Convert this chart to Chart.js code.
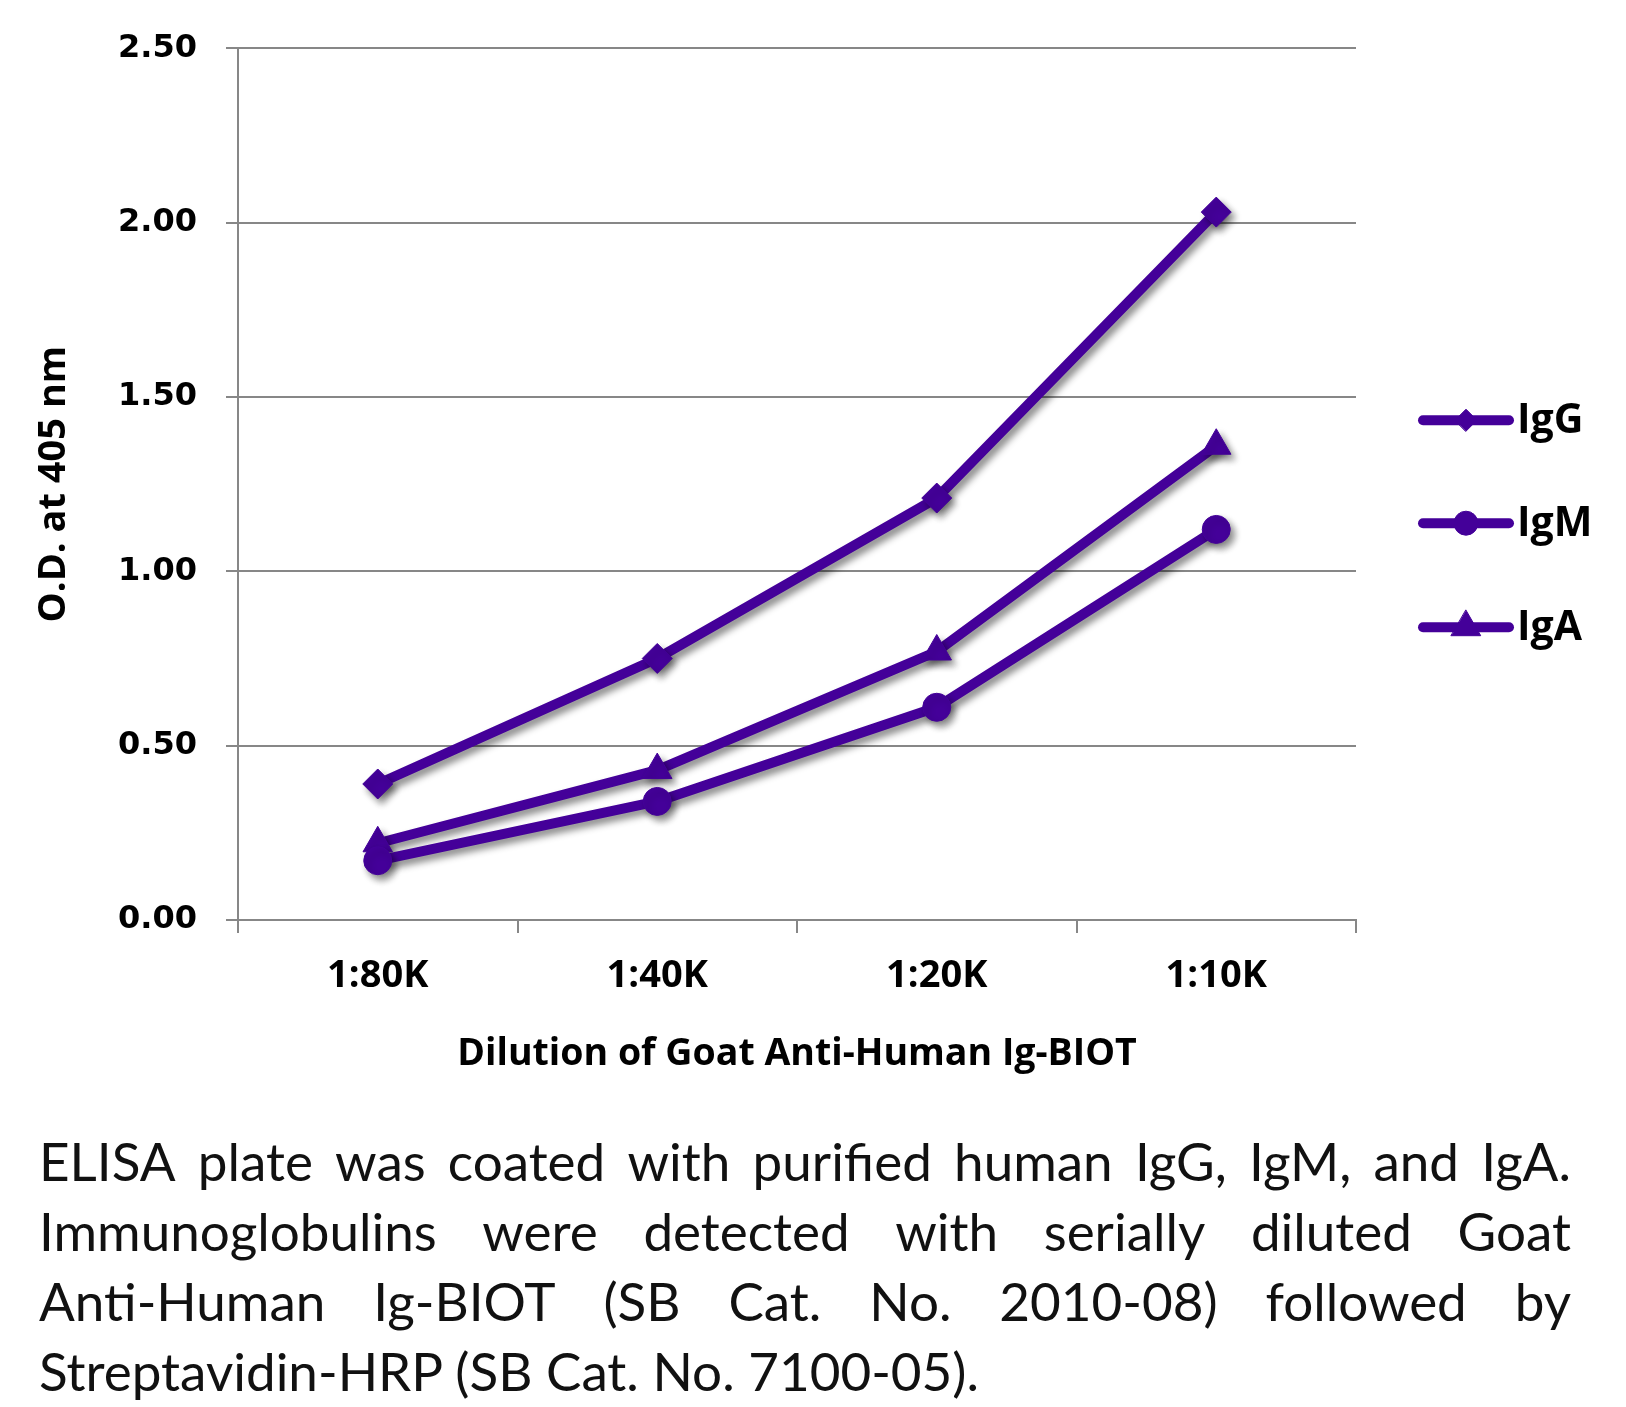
<!DOCTYPE html>
<html><head><meta charset="utf-8">
<script src="https://cdn.jsdelivr.net/npm/chart.js@4/dist/chart.umd.min.js"></script>
<style>
html,body{margin:0;padding:0;background:#fff;}
#wrap{position:absolute;left:0;top:0;width:1626px;height:1085px;}
#cap{position:absolute;left:39px;top:1126px;width:1532px;font-family:Lato,'Open Sans',sans-serif;font-size:53px;color:#111;line-height:70px;}
#cap .ln{display:flex;justify-content:space-between;white-space:nowrap;}
#cap .last{display:block;white-space:nowrap;}
</style>
</head><body>
<div id="wrap"><canvas id="c" width="1626" height="1085"></canvas></div>
<div id="cap">
<div class="ln"><span>ELISA</span><span>plate</span><span>was</span><span>coated</span><span>with</span><span>purified</span><span>human</span><span>IgG,</span><span>IgM,</span><span>and</span><span>IgA.</span></div>
<div class="ln"><span>Immunoglobulins</span><span>were</span><span>detected</span><span>with</span><span>serially</span><span>diluted</span><span>Goat</span></div>
<div class="ln"><span>Anti-Human</span><span>Ig-BIOT</span><span>(SB</span><span>Cat.</span><span>No.</span><span>2010-08)</span><span>followed</span><span>by</span></div>
<div class="last">Streptavidin-HRP (SB Cat. No. 7100-05).</div>
</div>
<script>
const categories = ['1:80K', '1:40K', '1:20K', '1:10K'];
const seriesNames = ['IgG', 'IgM', 'IgA'];
const igG = [0.39, 0.75, 1.21, 2.03];
const igM = [0.17, 0.34, 0.61, 1.12];
const igA = [0.22, 0.43, 0.77, 1.36];
const yMin = 0, yMax = 2.5, yStep = 0.5;
const xTitle = 'Dilution of Goat Anti-Human Ig-BIOT';
const yTitle = 'O.D. at 405 nm';

const PURPLE = '#440099';
const GRID = '#878787';
const BOLD = "'Open Sans', Lato, sans-serif";
const WIDE = "'DejaVu Sans', 'Open Sans', sans-serif";

const shadowPlugin = {
  id: 'shadow',
  beforeDatasetsDraw(chart) {
    const ctx = chart.ctx;
    ctx.save();
    ctx.shadowColor = 'rgba(0,0,0,0.45)';
    ctx.shadowBlur = 7;
    ctx.shadowOffsetX = 4;
    ctx.shadowOffsetY = 5;
  },
  afterDatasetsDraw(chart) { chart.ctx.restore(); }
};

const legendPlugin = {
  id: 'sideLegend',
  afterDraw(chart) {
    const ctx = chart.ctx;
    const ca = chart.chartArea;
    const x0 = ca.right + 67, x1 = ca.right + 153, xm = (x0 + x1) / 2;
    const ys = [ca.top + 372, ca.top + 475, ca.top + 579];
    const radii = [11, 12, 17];
    chart.data.datasets.forEach((ds, i) => {
      const y = ys[i];
      ctx.save();
      ctx.strokeStyle = ds.borderColor;
      ctx.lineWidth = 10;
      ctx.lineCap = 'round';
      ctx.beginPath(); ctx.moveTo(x0, y); ctx.lineTo(x1, y); ctx.stroke();
      ctx.fillStyle = ds.backgroundColor;
      ctx.strokeStyle = ds.borderColor;
      ctx.lineWidth = 1;
      Chart.helpers.drawPoint(ctx, {pointStyle: ds.pointStyle, radius: radii[i], borderWidth: 1, rotation: 0}, xm, y);
      ctx.fillStyle = '#000';
      ctx.font = 'bold 41px ' + BOLD;
      ctx.textBaseline = 'middle';
      ctx.textAlign = 'left';
      ctx.fillText(ds.label, x1 + 8, y + 1);
      ctx.restore();
    });
  }
};

const mk = (label, data, style, r) => ({
  label, data,
  borderColor: PURPLE, backgroundColor: PURPLE,
  borderWidth: 10, borderCapStyle: 'round', borderJoinStyle: 'round',
  pointStyle: style, pointRadius: r, pointBorderWidth: 1,
  pointBackgroundColor: PURPLE, pointBorderColor: PURPLE,
  tension: 0, fill: false
});

new Chart(document.getElementById('c'), {
  type: 'line',
  data: {
    labels: categories,
    datasets: [
      mk(seriesNames[0], igG, 'rectRot', 15),
      mk(seriesNames[1], igM, 'circle', 14),
      mk(seriesNames[2], igA, 'triangle', 17)
    ]
  },
  options: {
    responsive: false,
    animation: false,
    devicePixelRatio: 1,
    layout: {padding: {top: 48, right: 270, left: 0, bottom: 0}},
    plugins: {legend: {display: false}, tooltip: {enabled: false}},
    scales: {
      x: {
        type: 'category',
        offset: true,
        grid: {offset: true, drawOnChartArea: false, drawTicks: true, tickLength: 13, color: GRID, lineWidth: 2},
        border: {color: GRID, width: 2},
        ticks: {color: '#000', font: {family: BOLD, weight: 'bold', size: 38}, padding: 20, maxRotation: 0},
        title: {display: true, text: xTitle, color: '#000', font: {family: BOLD, weight: 'bold', size: 37.5}, padding: {top: 0, bottom: 8}},
        afterFit(s) { s.height = 165; }
      },
      y: {
        min: yMin, max: yMax,
        grid: {color: GRID, lineWidth: 2, tickLength: 12},
        border: {color: GRID, width: 2},
        ticks: {stepSize: yStep, color: '#000', font: {family: WIDE, weight: 'bold', size: 32}, padding: 29,
          callback: v => Number(v).toFixed(2)},
        title: {display: true, text: yTitle, color: '#000', font: {family: BOLD, weight: 'bold', size: 38}, padding: {top: 31, bottom: 0}},
        afterFit(s) { s.width = 238; }
      }
    }
  },
  plugins: [shadowPlugin, legendPlugin]
});
</script>
</body></html>
